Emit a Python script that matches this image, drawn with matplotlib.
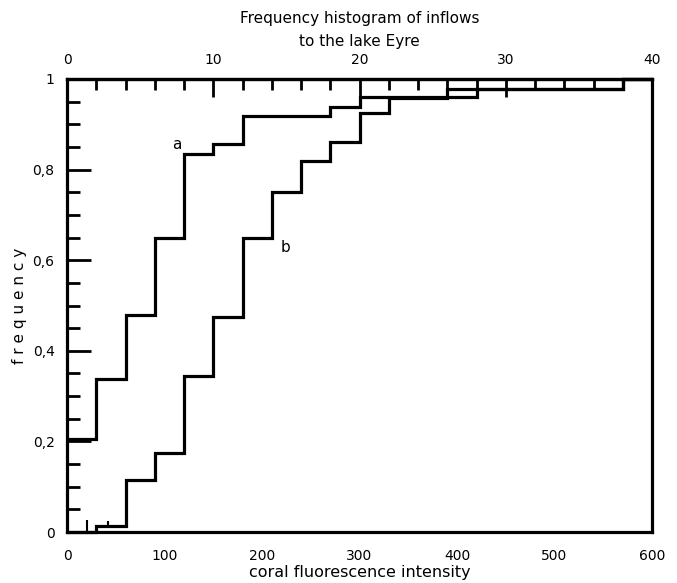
import numpy as np
import matplotlib
matplotlib.use("Agg")
import matplotlib.pyplot as plt
from matplotlib.ticker import MultipleLocator, FixedLocator

# bin edges on the lower axis (coral fluorescence intensity), 30 wide
edges = np.arange(0, 601, 30)

# cumulative frequency per bin
curve_a = [0.205, 0.338, 0.480, 0.648, 0.834, 0.856, 0.919, 0.919, 0.919, 0.938,
           0.961, 0.961, 0.961, 0.961, 0.979, 0.979, 0.979, 0.979, 0.979, 1.0]
curve_b = [0.0, 0.013, 0.115, 0.175, 0.344, 0.475, 0.649, 0.750, 0.820, 0.860,
           0.925, 0.958, 0.958, 0.979, 0.979, 0.979, 0.979, 0.979, 0.979, 1.0]

# two little spikes near the origin on curve b
spike_x = [20, 42]
spike_lo = [0.0, 0.013]
spike_hi = [0.026, 0.024]

y_ticks = [0, 0.2, 0.4, 0.6, 0.8, 1.0]
y_labels = ["0", "0,2", "0,4", "0,6", "0,8", "1"]
x_ticks = [0, 100, 200, 300, 400, 500, 600]
top_ticks = [0, 10, 20, 30, 40]

# the top axis runs 0..40 over the same width as 0..600
scale = 15.0

plt.rcParams['font.family'] = ['DejaVu Sans']
lw = 2.3

fig = plt.figure(figsize=(6.77, 5.83), dpi=100)
ax = fig.add_axes([67/677, 1-532/583, 585/677, 453/583])

ax.stairs(curve_a, edges, baseline=None, color="black", lw=lw, clip_on=False)
ax.stairs(curve_b, edges, baseline=None, color="black", lw=lw, clip_on=False)
ax.vlines(spike_x, spike_lo, spike_hi, color="black", lw=1.5)

ax.text(113, 0.856, "a", fontsize=11, ha="center", va="center")
ax.text(224, 0.627, "b", fontsize=11, ha="center", va="center")

ax.set_xlim(0, 600)
ax.set_ylim(0, 1)

for s in ax.spines.values():
    s.set_linewidth(lw)

# bottom axis: labels only
ax.set_xticks(x_ticks)
ax.set_xticklabels([str(t) for t in x_ticks])
ax.tick_params(axis="x", bottom=True, length=0, pad=12, labelsize=10)

# left axis: inward ticks, comma decimals
ax.yaxis.set_major_locator(FixedLocator(y_ticks))
ax.set_yticklabels(y_labels)
ax.yaxis.set_minor_locator(MultipleLocator(0.05))
ax.tick_params(axis="y", which="major", direction="in", length=17, width=2, pad=9, labelsize=10)
ax.tick_params(axis="y", which="minor", direction="in", length=9.5, width=2)

ax.set_xlabel("coral fluorescence intensity", fontsize=11.5, labelpad=2)
ax.set_ylabel("f r e q u e n c y", fontsize=11, labelpad=4)

# top axis: inflows
top = ax.secondary_xaxis("top", functions=(lambda x: x / scale, lambda x: x * scale))
top.xaxis.set_major_locator(FixedLocator(top_ticks))
top.xaxis.set_minor_locator(MultipleLocator(2))
top.tick_params(which="major", direction="in", length=13, width=2, pad=8.5, labelsize=10)
top.tick_params(which="minor", direction="in", length=8, width=2)
top.spines["top"].set_linewidth(lw)
top.set_xlabel("Frequency histogram of inflows\nto the lake Eyre", fontsize=11,
               labelpad=5, linespacing=1.65)

fig.savefig("out.png", dpi=100)
